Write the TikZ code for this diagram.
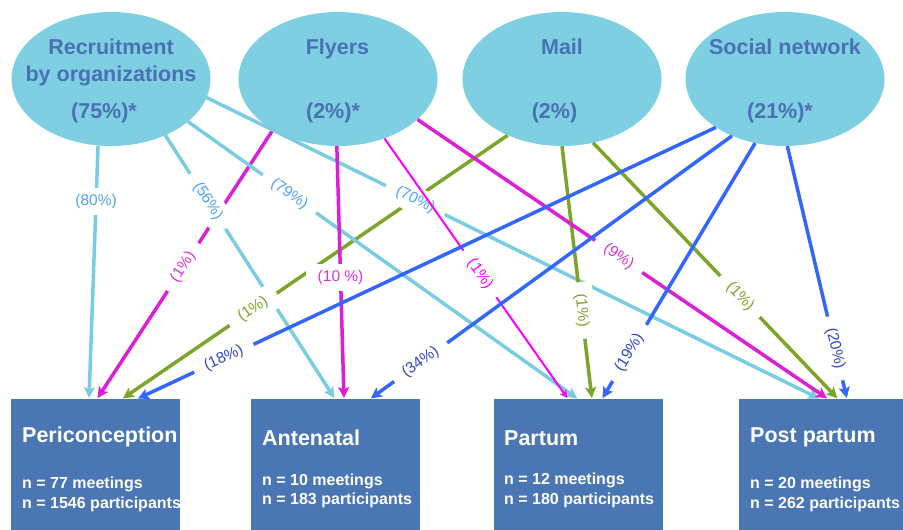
\documentclass[tikz,border=0pt]{standalone}
\usepackage{fontspec}
\setmainfont{Liberation Sans}
\usetikzlibrary{shapes.geometric}
\usetikzlibrary{arrows.meta}
\definecolor{ovalfill}{HTML}{7ECFE1}
\definecolor{ovaltext}{HTML}{4A70B6}
\definecolor{boxfill}{HTML}{4A76B4}
\definecolor{reccol}{HTML}{7ACDE0}
\definecolor{reclbl}{HTML}{4DA3F5}
\definecolor{flycol}{HTML}{DB1FD6}
\definecolor{flylbl}{HTML}{E030D0}
\definecolor{flythin}{HTML}{FF00FF}
\definecolor{mailcol}{HTML}{7BA428}
\definecolor{soccol}{HTML}{3366FF}
\definecolor{soclbl}{HTML}{2F45C8}

\tikzset{
  src/.style={ellipse, fill=ovalfill, minimum width=199pt, minimum height=134pt, inner sep=0pt},
  srctext/.style={text=ovaltext, font=\fontsize{21.5}{27}\selectfont\bfseries, align=center, inner sep=0pt},
  stage/.style={rectangle, fill=boxfill, minimum width=169pt, minimum height=140pt, anchor=north west, inner sep=0pt},
  stagetitle/.style={text=white, font=\fontsize{21.5}{26}\selectfont\bfseries, anchor=base west, inner sep=0pt},
  stageinfo/.style={text=white, font=\fontsize{16}{19.5}\selectfont\bfseries, anchor=west, align=left, inner sep=0pt},
  flow/.style={line width=3.5pt, shorten >=1pt, -{Stealth[length=11pt,width=11pt,inset=2.5pt]}},
  thinflow/.style={line width=2pt, shorten >=1pt, -{Stealth[length=8pt,width=8pt,inset=2pt]}},
  pct/.style={fill=white, inner xsep=12pt, inner ysep=6pt, font=\fontsize{15.5}{18}\selectfont},
}

\begin{document}
\begin{tikzpicture}[x=1pt, y=-1pt]
      \useasboundingbox (0,0) rectangle (903,530);
      % recruitment channels
      \node[src] (rec) at (111,79) {};
      \node[src] (fly) at (338,79) {};
      \node[src] (mail) at (562,79) {};
      \node[src] (soc) at (785,79) {};
      \node[srctext] (rec-t) at (111,62) {Recruitment\\by organizations};
      \node[srctext, anchor=base] (fly-t) at (337.5,54) {Flyers};
      \node[srctext, anchor=base] (mail-t) at (562,54) {Mail};
      \node[srctext, anchor=base] (soc-t) at (785,54) {Social network};
      \node[srctext, anchor=base] (rec-p) at (104,118) {(75\%)*};
      \node[srctext, anchor=base] (fly-p) at (333,118) {(2\%)*};
      \node[srctext, anchor=base] (mail-p) at (554.5,118) {(2\%)};
      \node[srctext, anchor=base] (soc-p) at (780,118) {(21\%)*};
      % stages
      \node[stage] (peri) at (11,399) {};
      \node[stage] (ante) at (251,399) {};
      \node[stage] (part) at (494,399) {};
      \node[stage] (post) at (739,399) {};
      \node[stagetitle] (peri-t) at (22,442) {Periconception};
      \node[stagetitle] (ante-t) at (262,445) {Antenatal};
      \node[stagetitle] (part-t) at (504,445) {Partum};
      \node[stagetitle] (post-t) at (750,442) {Post partum};
      \node[stageinfo] (peri-n) at (22,494.6) {n = 77 meetings\\n = 1546 participants};
      \node[stageinfo] (ante-n) at (262,491) {n = 10 meetings\\n = 183 participants};
      \node[stageinfo] (part-n) at (504,490.3) {n = 12 meetings\\n = 180 participants};
      \node[stageinfo] (post-n) at (750,494.3) {n = 20 meetings\\n = 262 participants};
      % flows
      \draw[flow, flycol] (fly.-142) -- node[pct, text=flylbl, sloped, pos=.51] {(1\%)} ([xshift=86pt]peri.north west);
      \draw[flow, reccol] (rec.-46) -- node[pct, text=reclbl, sloped, pos=.25] {(56\%)} ([xshift=84pt]ante.north west);
      \draw[flow, mailcol] (mail.-134) -- node[pct, text=mailcol, sloped, pos=.66] {(1\%)} ([xshift=111pt]peri.north west);
      \draw[flow, reccol] (rec.-11) -- node[pct, text=reclbl, sloped, pos=.34] {(70\%)} ([xshift=81pt]post.north west);
      \draw[flow, mailcol] (mail.-90) -- node[pct, text=mailcol, sloped, pos=.65] {(1\%)} ([xshift=98pt]part.north west);
      \draw[flow, reccol] (rec.-101) -- node[pct, text=reclbl, pos=.22] {(80\%)} ([xshift=78pt]peri.north west);
      \draw[flow, reccol] (rec.-29) -- node[pct, text=reclbl, sloped, pos=.26] {(79\%)} ([xshift=84pt]part.north west);
      \draw[flow, flycol] (fly.-91) -- node[pct, text=flylbl, pos=.52] {(10 \%)} ([xshift=93pt]ante.north west);
      \draw[thinflow, flythin] (fly.-52) -- node[pct, text=flythin, sloped, pos=.52] {(1\%)} ([xshift=74pt]part.north west);
      \draw[flow, flycol] (fly.-27) -- node[pct, text=flylbl, sloped, pos=.49] {(9\%)} ([xshift=89pt]post.north west);
      \draw[flow, mailcol] (mail.-64) -- node[pct, text=mailcol, sloped, pos=.60] {(1\%)} ([xshift=99pt]post.north west);
      \draw[flow, soccol] (soc.-145) -- node[pct, text=soclbl, sloped, pos=.85] {(18\%)} ([xshift=126pt]peri.north west);
      \draw[flow, soccol] (soc.-133) -- node[pct, text=soclbl, sloped, pos=.86] {(34\%)} ([xshift=119pt]ante.north west);
      \draw[flow, soccol] (soc.-115) -- node[pct, text=soclbl, sloped, pos=.82] {(19\%)} ([xshift=108pt]part.north west);
      \draw[flow, soccol] (soc.-88) -- node[pct, text=soclbl, sloped, pos=.80] {(20\%)} ([xshift=108pt]post.north west);
    \end{tikzpicture}
\end{document}
